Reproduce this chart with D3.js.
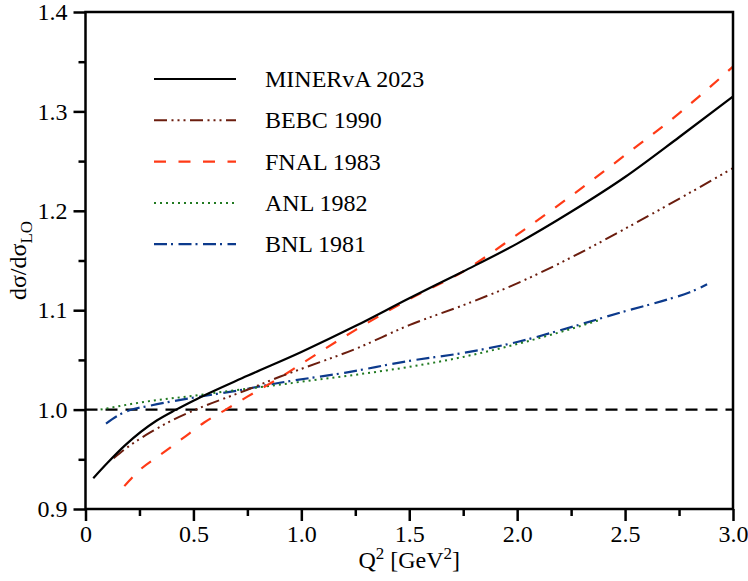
<!DOCTYPE html>
<html>
<head>
<meta charset="utf-8">
<script src="https://cdn.jsdelivr.net/npm/d3@7"></script>
<style>
  body { margin: 0; background: #fff; }
  svg text { font-family: "Liberation Serif", "Times New Roman", serif; fill: #000; }
</style>
</head>
<body>
<svg id="chart" width="748" height="581"></svg>
<script>
// Q2 values [GeV^2] and cross-section ratios
var minervaQ2 = [0.036, 0.1, 0.183, 0.33, 0.42, 0.5, 0.75, 1.0, 1.25, 1.5, 1.75, 2.0, 2.25, 2.5, 2.75, 3.0];
var minervaR  = [0.931, 0.946, 0.964, 0.989, 1.000, 1.009, 1.034, 1.058, 1.084, 1.112, 1.139, 1.167, 1.199, 1.234, 1.274, 1.315];

var bebcQ2 = [0.13, 0.2, 0.3, 0.4, 0.5, 0.75, 0.9, 1.0, 1.25, 1.5, 1.75, 2.0, 2.25, 2.5, 2.75, 3.0];
var bebcR  = [0.951, 0.963, 0.977, 0.989, 0.999, 1.020, 1.033, 1.041, 1.061, 1.085, 1.105, 1.127, 1.153, 1.182, 1.212, 1.243];

var fnalQ2 = [0.18, 0.25, 0.35, 0.45, 0.55, 0.65, 0.75, 0.9, 1.0, 1.25, 1.5, 1.75, 2.0, 2.25, 2.5, 2.75, 3.0];
var fnalR  = [0.923, 0.939, 0.955, 0.971, 0.987, 1.000, 1.013, 1.032, 1.046, 1.080, 1.111, 1.139, 1.176, 1.215, 1.256, 1.298, 1.345];

var anlQ2 = [0.07, 0.25, 0.5, 0.75, 1.0, 1.25, 1.5, 1.75, 2.0, 2.2, 2.38];
var anlR  = [1.000, 1.007, 1.014, 1.021, 1.028, 1.035, 1.043, 1.053, 1.066, 1.078, 1.090];

var bnlQ2 = [0.095, 0.15, 0.2, 0.3, 0.5, 0.7, 0.9, 1.2, 1.5, 1.75, 2.0, 2.25, 2.5, 2.7, 2.8, 2.88];
var bnlR  = [0.986, 0.994, 0.999, 1.004, 1.012, 1.019, 1.027, 1.037, 1.049, 1.057, 1.068, 1.083, 1.099, 1.111, 1.118, 1.126];

var xTicks = [0, 0.5, 1.0, 1.5, 2.0, 2.5, 3.0];
var xTickLabels = ["0", "0.5", "1.0", "1.5", "2.0", "2.5", "3.0"];
var yTicks = [0.9, 1.0, 1.1, 1.2, 1.3, 1.4];
var yTickLabels = ["0.9", "1.0", "1.1", "1.2", "1.3", "1.4"];

var seriesNames = ["MINERvA 2023", "BEBC 1990", "FNAL 1983", "ANL 1982", "BNL 1981"];

var series = [
  { name: seriesNames[0], q2: minervaQ2, r: minervaR, color: "#000000", dash: null, width: 2.2 },
  { name: seriesNames[1], q2: bebcQ2, r: bebcR, color: "#6b1d0e", dash: "13,4.5,2,4,2,4,2,4.5", width: 2 },
  { name: seriesNames[2], q2: fnalQ2, r: fnalR, color: "#ff3a16", dash: "12,12.5", width: 2.2 },
  { name: seriesNames[3], q2: anlQ2, r: anlR, color: "#217a21", dash: "2,4", width: 2 },
  { name: seriesNames[4], q2: bnlQ2, r: bnlR, color: "#0c3a8c", dash: "13,4,2,5.5", width: 2.2 }
];

var svg = d3.select("#chart");

var x = d3.scaleLinear().domain([0, 3]).range([85.5, 733]);
var y = d3.scaleLinear().domain([0.9, 1.4]).range([509, 12]);

// minor ticks
svg.append("g")
  .attr("transform", "translate(0," + y(0.9) + ")")
  .call(d3.axisBottom(x).tickValues(d3.range(0.25, 3, 0.5)).tickSize(7).tickFormat(""))
  .call(function(g) { g.select(".domain").remove(); g.selectAll("line").attr("stroke-width", 2.5); });

svg.append("g")
  .attr("transform", "translate(" + x(0) + ",0)")
  .call(d3.axisLeft(y).tickValues([0.95, 1.05, 1.15, 1.25, 1.35]).tickSize(7).tickFormat(""))
  .call(function(g) { g.select(".domain").remove(); g.selectAll("line").attr("stroke-width", 2.5); });

// major ticks + labels
var xAxis = svg.append("g")
  .attr("transform", "translate(0," + y(0.9) + ")")
  .call(d3.axisBottom(x).tickValues(xTicks).tickSize(12).tickPadding(4)
    .tickFormat(function(d, i) { return xTickLabels[i]; }));
xAxis.select(".domain").remove();
xAxis.selectAll("line").attr("stroke-width", 2.5);
xAxis.selectAll("text").attr("font-size", 24).attr("font-family", "Liberation Serif");

var yAxis = svg.append("g")
  .attr("transform", "translate(" + x(0) + ",0)")
  .call(d3.axisLeft(y).tickValues(yTicks).tickSize(12).tickPadding(6)
    .tickFormat(function(d, i) { return yTickLabels[i]; }));
yAxis.select(".domain").remove();
yAxis.selectAll("line").attr("stroke-width", 2.5);
yAxis.selectAll("text").attr("font-size", 24).attr("font-family", "Liberation Serif");

// reference line at 1
svg.append("line")
  .attr("x1", x(0)).attr("x2", x(3))
  .attr("y1", y(1.0)).attr("y2", y(1.0))
  .attr("stroke", "#000").attr("stroke-width", 2.2)
  .attr("stroke-dasharray", "12,8");

var line = d3.line()
  .x(function(d) { return x(d[0]); })
  .y(function(d) { return y(d[1]); })
  .curve(d3.curveMonotoneX);

// draw back to front so MINERvA sits on top
series.slice().reverse().forEach(function(s) {
  var pts = s.q2.map(function(q, i) { return [q, s.r[i]]; });
  svg.append("path")
    .datum(pts)
    .attr("d", line)
    .attr("fill", "none")
    .attr("stroke", s.color)
    .attr("stroke-width", s.width)
    .attr("stroke-dasharray", s.dash);
});

// frame
svg.append("rect")
  .attr("x", x(0)).attr("y", y(1.4))
  .attr("width", x(3) - x(0)).attr("height", y(0.9) - y(1.4))
  .attr("fill", "none").attr("stroke", "#000").attr("stroke-width", 2.5);

// legend
var legend = svg.append("g");
series.forEach(function(s, i) {
  var ly = 79 + i * 41.3;
  legend.append("line")
    .attr("x1", 154).attr("x2", 236)
    .attr("y1", ly).attr("y2", ly)
    .attr("stroke", s.color).attr("stroke-width", s.width)
    .attr("stroke-dasharray", s.dash);
  legend.append("text")
    .attr("x", 265).attr("y", ly + 8)
    .attr("font-size", 24)
    .text(s.name);
});

// axis titles
var xt = svg.append("text")
  .attr("x", (x(0) + x(3)) / 2).attr("y", 568)
  .attr("text-anchor", "middle")
  .attr("font-size", 24);
xt.append("tspan").text("Q");
xt.append("tspan").attr("font-size", 17).attr("dy", -9).text("2");
xt.append("tspan").attr("dy", 9).text(" [GeV");
xt.append("tspan").attr("font-size", 17).attr("dy", -9).text("2");
xt.append("tspan").attr("dy", 9).text("]");

var yt = svg.append("text")
  .attr("transform", "translate(26," + ((y(0.9) + y(1.4)) / 2) + ") rotate(-90)")
  .attr("text-anchor", "middle")
  .attr("font-size", 24);
yt.append("tspan").text("d\u03c3/d\u03c3");
yt.append("tspan").attr("font-size", 17).attr("dy", 6).text("LO");
</script>
</body>
</html>
